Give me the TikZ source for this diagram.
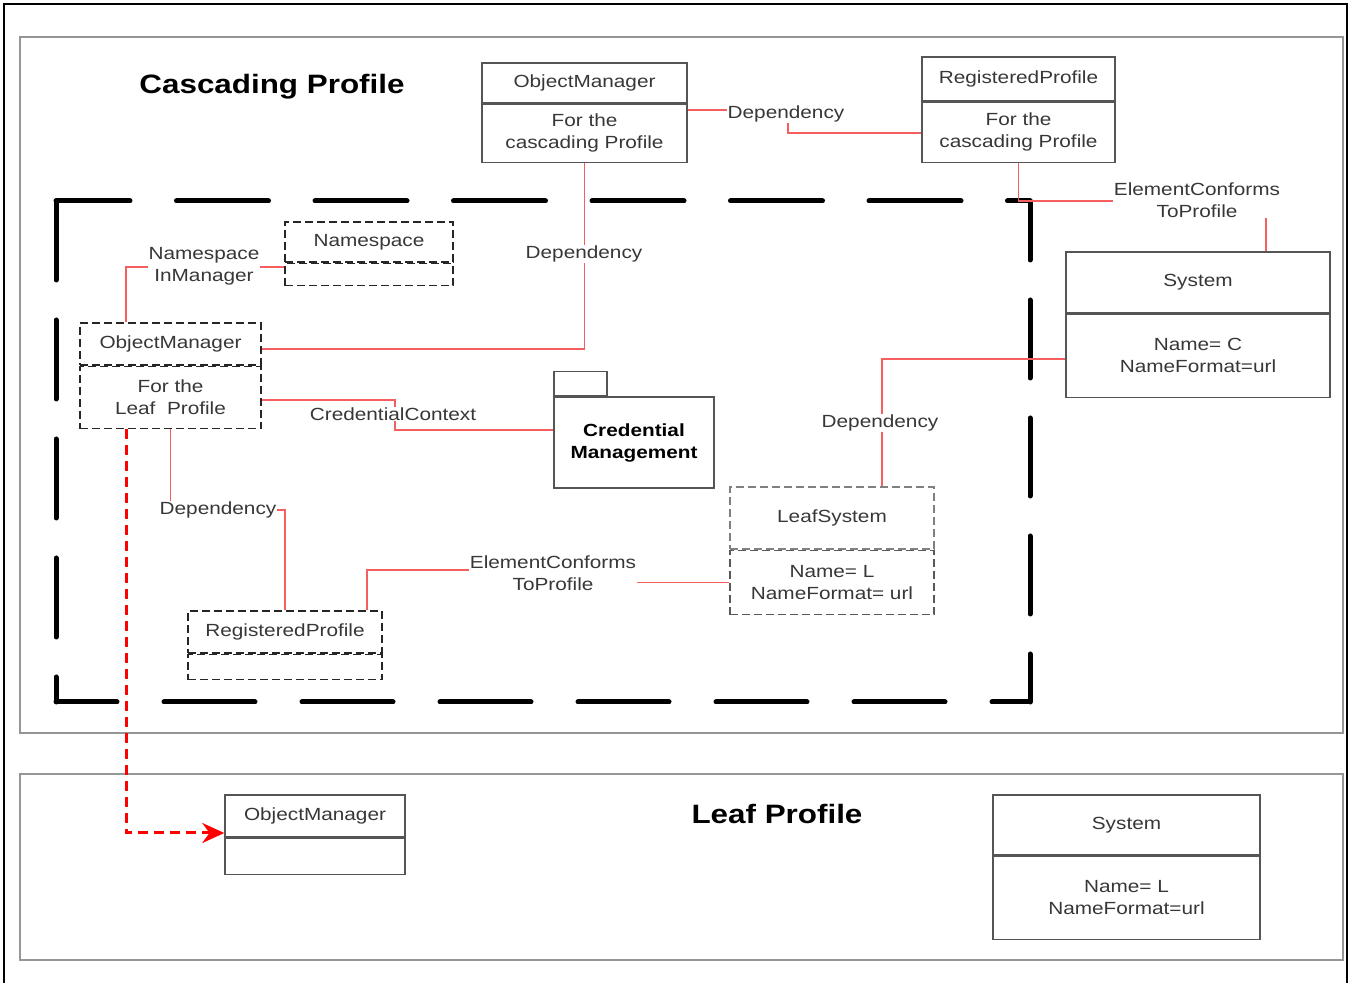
\documentclass[tikz,border=0pt]{standalone}
\usepackage{fontspec}
\setmainfont{Liberation Sans}[FakeStretch=1.18]
\usetikzlibrary{arrows.meta, positioning}
\definecolor{relred}{RGB}{245,95,95}
\definecolor{boxgray}{RGB}{85,85,85}
\definecolor{txtgray}{RGB}{55,55,55}
\definecolor{pkggray}{RGB}{150,150,150}
\newcommand{\lblfont}{\fontsize{8.8}{11}\selectfont}

\begin{document}
\begin{tikzpicture}[
    x=0.5pt, y=-0.5pt,
    every node/.style={font=\lblfont, text=txtgray},
    hd/.style={rectangle, draw=boxgray, line width=0.7pt, inner sep=0pt,
        align=center},
    hdd/.style={hd, draw=black!85, line width=0.8pt,
        dash pattern=on 4pt off 2pt},
    rel/.style={draw=relred, line width=0.7pt},
    lbl/.style={fill=white, inner sep=0.5pt, align=center},
    ttl/.style={font=\fontsize{13.3}{16}\selectfont\bfseries, text=black},
    pkg/.style={draw=pkggray, line width=1pt},
    bnd/.style={line width=2.5pt, line cap=round},
    leafarrow/.style={-{Stealth[length=11pt,width=10pt]}, draw=red,
        line width=1.5pt, dash pattern=on 5pt off 3pt},
]
\useasboundingbox (0,0) rectangle (1351,983);

% ====== FRAMES ======
\draw[line width=0.8pt] (4,983) -- (4,4) -- (1347,4) -- (1347,983);
\draw[pkg] (20,37) rectangle (1343,733);
\draw[pkg] (20,774) rectangle (1343,960);

\node[ttl] (cas-title)  at (272,87)  {Cascading Profile};
\node[ttl] (leaf-title) at (777,814) {Leaf Profile};

% big dashed boundary
\draw[bnd, dash pattern=on 46pt off 23.25pt, dash phase=9pt] (56,201) -- (1030,201);
\draw[bnd, dash pattern=on 39.5pt off 20pt] (56,201) -- (56,702);
\draw[bnd, dash pattern=on 39pt off 20pt, dash phase=9.5pt] (1030,201) -- (1030,702);
\draw[bnd, dash pattern=on 45.5pt off 23.5pt, dash phase=15pt] (56,702) -- (1030,702);

% ====== CASCADING: solid boxes ======
\node[hd, minimum width=102.5pt, minimum height=20pt] (omC-h) at (584.5,83) {ObjectManager};
\node[hd, minimum width=102.5pt, minimum height=29pt, below=0pt of omC-h] (omC-b)
    {For the\\cascading Profile};

\node[hd, minimum width=96.5pt, minimum height=22pt] (rpC-h) at (1018.5,79) {RegisteredProfile};
\node[hd, minimum width=96.5pt, minimum height=30pt, below=0pt of rpC-h] (rpC-b)
    {For the\\cascading Profile};

\node[hd, minimum width=132pt, minimum height=30.5pt] (sysC-h) at (1198,282.5) {System};
\node[hd, minimum width=132pt, minimum height=41.5pt, below=0pt of sysC-h] (sysC-b)
    {Name= C\\NameFormat=url};

% ====== CASCADING: dashed boxes ======
\node[hdd, minimum width=84pt, minimum height=20pt] (ns-h) at (369,242) {Namespace};
\node[hdd, minimum width=84pt, minimum height=11pt, below=0pt of ns-h] (ns-b) {};

\node[hdd, minimum width=90.5pt, minimum height=21pt] (omL-h) at (170.5,344) {ObjectManager};
\node[hdd, minimum width=90.5pt, minimum height=31pt, below=0pt of omL-h] (omL-b)
    {For the\\Leaf~~Profile};

\node[hdd, draw=gray, minimum width=102pt, minimum height=31pt] (lsys-h) at (832,518) {LeafSystem};
\node[hdd, draw=gray!70!black, minimum width=102pt, minimum height=32pt, below=0pt of lsys-h] (lsys-b)
    {Name= L\\NameFormat= url};

\node[hdd, minimum width=97pt, minimum height=21pt] (rpL-h) at (285,632) {RegisteredProfile};
\node[hdd, minimum width=97pt, minimum height=12.5pt, below=0pt of rpL-h] (rpL-b) {};

% package
\node[hd, minimum width=80pt, minimum height=45.5pt, font=\lblfont\bfseries, text=black]
    (cred) at (634,442.5) {Credential\\Management};
\node[hd, minimum width=26.5pt, minimum height=12pt, anchor=south west] (credtab)
    at (cred.north west) {};

% ====== LEAF PROFILE ======
\node[hd, minimum width=90pt, minimum height=21pt] (omLP-h) at (315,816) {ObjectManager};
\node[hd, minimum width=90pt, minimum height=18pt, below=0pt of omLP-h] (omLP-b) {};

\node[hd, minimum width=133.5pt, minimum height=30pt] (sysL-h) at (1126.5,825) {System};
\node[hd, minimum width=133.5pt, minimum height=41.5pt, below=0pt of sysL-h] (sysL-b)
    {Name= L\\NameFormat=url};

% ====== CONNECTORS ======
\draw[rel] (omC-b.east |- 0,110) -| (788,133) -- (rpC-b.west |- 0,133);
\draw[rel] (omC-b.south) |- (omL-h.east |- 0,349);
\draw[rel] (rpC-b.south) |- (1266,201) -- (sysC-h.north -| 1266,0);
\draw[rel] (sysC-b.west |- 0,359) -| (lsys-h.north -| 882,0);
\draw[rel] (omL-h.north -| 126,0) |- (ns-b.west |- 0,267);
\draw[rel] (omL-b.east |- 0,400) -| (395,430) -- (cred.west |- 0,430);
\draw[rel] (omL-b.south) |- (rpL-h.north |- 0,510) -- (rpL-h.north);
\draw[rel] (rpL-h.north -| 367,0) |- (553,570) |- (lsys-b.west);

\draw[leafarrow] (omL-b.south -| 126,0) |- (omLP-h.west |- 0,833);

% labels on top of the lines
\node[lbl] (dep-a)  at (786,114)  {Dependency};
\node[lbl] (dep-b)  at (584,254)  {Dependency};
\node[lbl] (ecp-c)  at (1197,200) {ElementConforms\\ToProfile};
\node[lbl] (dep-d)  at (880,423)  {Dependency};
\node[lbl] (nsim)   at (204,266)  {Namespace\\InManager};
\node[lbl] (credctx) at (393,414) {CredentialContext};
\node[lbl] (dep-g)  at (218,510)  {Dependency};
\node[lbl] (ecp-l)  at (553,573)  {ElementConforms\\ToProfile};

\end{tikzpicture}
\end{document}
